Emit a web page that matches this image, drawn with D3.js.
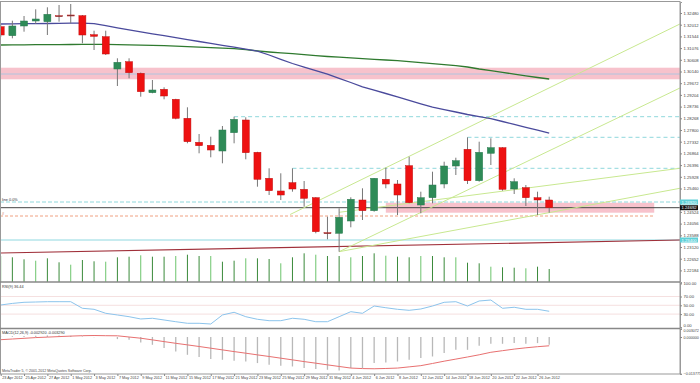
<!DOCTYPE html>
<html>
<head>
<meta charset="utf-8">
<title>EURUSD Daily</title>
<script src="https://cdn.jsdelivr.net/npm/d3@7"></script>
<style>
  body { margin: 0; background: #fff; }
  svg { display: block; font-family: "Liberation Sans", Arial, sans-serif; }
</style>
</head>
<body>
<script>
// bar dates (daily)
const dates = ["23 Apr 2012","24 Apr 2012","25 Apr 2012","26 Apr 2012","27 Apr 2012","30 Apr 2012",
  "1 May 2012","2 May 2012","3 May 2012","4 May 2012","7 May 2012","8 May 2012","9 May 2012","10 May 2012",
  "11 May 2012","14 May 2012","15 May 2012","16 May 2012","17 May 2012","18 May 2012","21 May 2012",
  "22 May 2012","23 May 2012","24 May 2012","25 May 2012","28 May 2012","29 May 2012","30 May 2012",
  "31 May 2012","1 Jun 2012","4 Jun 2012","5 Jun 2012","6 Jun 2012","7 Jun 2012","8 Jun 2012",
  "11 Jun 2012","12 Jun 2012","13 Jun 2012","14 Jun 2012","15 Jun 2012","18 Jun 2012","19 Jun 2012",
  "20 Jun 2012","21 Jun 2012","22 Jun 2012","25 Jun 2012","26 Jun 2012","27 Jun 2012"];

const open  = [1.31932,1.31572,1.31960,1.32160,1.32132,1.32372,1.32400,1.32372,1.31612,1.31532,1.30240,1.30532,
  1.30068,1.29292,1.29428,1.29028,1.28268,1.27308,1.27188,1.26960,1.27692,1.28200,1.26908,1.25868,1.25360,
  1.25692,1.25428,1.25092,1.23692,1.23668,1.24160,1.25000,1.24572,1.25828,1.25640,1.26372,1.24800,1.25092,
  1.25640,1.26360,1.27028,1.25772,1.26868,1.27092,1.25440,1.25492,1.25092,1.25000];
const high  = [1.32000,1.32172,1.32360,1.32628,1.32708,1.32800,1.32840,1.32400,1.31772,1.31772,1.30668,1.30668,
  1.30100,1.29800,1.29508,1.29048,1.28708,1.27640,1.27532,1.27960,1.28332,1.28308,1.26928,1.26268,1.26068,
  1.26268,1.25760,1.25112,1.24332,1.24668,1.25108,1.25468,1.25880,1.26292,1.25800,1.26732,1.25332,1.26132,
  1.26532,1.26692,1.27508,1.27332,1.27468,1.27112,1.25868,1.25600,1.25332,1.25132];
const low   = [1.31520,1.31468,1.31732,1.32040,1.31600,1.32132,1.32068,1.31268,1.31000,1.30800,1.29560,1.29868,
  1.29132,1.29268,1.29028,1.28228,1.27268,1.26868,1.26708,1.26468,1.27268,1.26628,1.25532,1.25200,1.25000,
  1.25332,1.24732,1.23668,1.23428,1.22932,1.23908,1.24200,1.24532,1.25468,1.24400,1.24868,1.24468,1.24868,
  1.25468,1.26000,1.25640,1.25732,1.26400,1.25372,1.25240,1.24760,1.24400,1.24492];
const close = [1.31600,1.31960,1.32160,1.32240,1.32428,1.32368,1.32396,1.31600,1.31548,1.30840,1.30508,1.30092,
  1.29332,1.29400,1.29160,1.28268,1.27332,1.27172,1.27000,1.27800,1.28228,1.26892,1.25828,1.25372,1.25200,
  1.25440,1.25068,1.23732,1.23688,1.24308,1.25028,1.24572,1.25868,1.25640,1.25200,1.24892,1.25092,1.25600,
  1.26360,1.26572,1.25772,1.26908,1.27092,1.25428,1.25732,1.25092,1.25000,1.24692];

// moving averages
const maBlue = [1.32040,1.32044,1.32052,1.32056,1.32060,1.32068,1.32072,1.32076,1.32052,1.31972,1.31888,1.31808,
  1.31728,1.31648,1.31572,1.31496,1.31416,1.31340,1.31264,1.31188,1.31116,1.31036,1.30952,1.30800,1.30628,
  1.30460,1.30316,1.30172,1.30032,1.29868,1.29700,1.29528,1.29392,1.29260,1.29124,1.28984,1.28844,1.28712,
  1.28616,1.28520,1.28420,1.28332,1.28252,1.28140,1.28024,1.27908,1.27792,1.27676];
const maGreen = [1.31200,1.31204,1.31208,1.31212,1.31212,1.31216,1.31220,1.31224,1.31228,1.31224,1.31216,1.31204,
  1.31192,1.31184,1.31176,1.31156,1.31136,1.31116,1.31092,1.31072,1.31052,1.31016,1.30964,1.30920,1.30884,
  1.30852,1.30812,1.30776,1.30740,1.30712,1.30684,1.30656,1.30628,1.30600,1.30572,1.30532,1.30492,1.30452,
  1.30412,1.30372,1.30320,1.30240,1.30172,1.30104,1.30036,1.29968,1.29900,1.29840];

const volume = [26000,24700,22700,21300,23700,19700,17300,22000,20700,20300,24700,25300,26700,25300,25300,26000,
  27300,26000,26000,20300,21300,23700,23700,23000,18700,24700,28700,27300,26000,26000,24700,26000,28700,26300,
  25300,24700,26000,26000,24700,24700,19300,18700,15300,14700,14300,13700,15300,13000];

const rsi = [50.7,54.3,56.8,57.5,58.2,58.2,58.2,43.2,40.9,31.8,28.0,24.1,18.9,20.5,16.6,12.7,9.1,9.1,7.5,28.0,
  34.1,24.1,18.2,15.0,15.0,20.5,18.2,12.7,12.7,24.1,35.5,31.8,48.4,44.5,40.9,38.6,41.6,48.4,56.8,58.2,48.4,
  59.8,62.0,43.2,45.5,40.9,40.9,36.44];

const macdHist = [0.00020,0.00030,0.00040,0.00050,0.00060,0.00060,0.00050,0.00020,-0.00010,-0.00004,-0.00079,
  -0.00105,-0.00206,-0.00292,-0.00415,-0.00542,-0.00666,-0.00752,-0.00827,-0.00853,-0.00890,-0.00916,-0.00976,
  -0.01040,-0.01077,-0.01103,-0.01163,-0.01201,-0.01227,-0.01253,-0.01163,-0.01163,-0.00976,-0.00954,-0.00916,
  -0.00853,-0.00789,-0.00729,-0.00602,-0.00479,-0.00479,-0.00329,-0.00254,-0.00254,-0.00228,-0.00254,-0.00228,
  -0.00292];
const macdSignal = [-0.00101,-0.00075,-0.00049,-0.00022,-0.00004,0.00015,0.00034,0.00049,0.00056,0.00049,0.00045,
  0.00000,-0.00045,-0.00108,-0.00172,-0.00236,-0.00295,-0.00355,-0.00419,-0.00482,-0.00546,-0.00606,-0.00669,
  -0.00729,-0.00793,-0.00856,-0.00920,-0.00980,-0.01043,-0.01103,-0.01163,-0.01182,-0.01189,-0.01178,-0.01163,
  -0.01118,-0.01073,-0.00991,-0.00905,-0.00827,-0.00748,-0.00666,-0.00572,-0.00512,-0.00453,-0.00404,-0.00363,
  -0.00329];

// axis ticks
const priceTicks = [1.32480,1.32012,1.31544,1.31076,1.30608,1.30140,1.29672,1.29204,1.28736,1.28268,1.27800,
  1.27332,1.26864,1.26396,1.25928,1.25460,1.24992,1.24524,1.24056,1.23588,1.23120,1.22652,1.22184];
const rsiTicks = [100, 70, 50, 30, 0];
const macdTicks = [0.003072, 0, -0.013775];
const dateTicks = d3.range(0, 48, 2);

// drawn objects (bar index, price)
const levelPrice = [1.28332, 1.27508, 1.26268];   // dashed swing levels
const levelFrom  = [20, 40, 25];
const zoneTop    = [1.30292, 1.24892];
const zoneBottom = [1.29828, 1.24492];
const zoneFrom   = [-1, 33];
const zoneTo     = [60, 56];
const fibLine = 1.24920;
const orangeLine = 1.24360;
const cyanLine = 1.23400;
const longLine = [[0, 1.22880], [58.2, 1.23400]];
const fanLines = [
  [[24.8, 1.24420], [58.2, 1.32040]],
  [[29, 1.22932], [58.2, 1.29480]],
  [[29, 1.24508], [58.2, 1.26268]],
  [[29, 1.22932], [58.2, 1.25468]]
];

const W = 700, H = 383;
const L = 0, R = 680;
const mainTop = 2, mainBot = 282, rsiTop = 283, rsiBot = 328, macdTop = 329, macdBot = 374;
const fs = 4.2;

const svg = d3.select("body").append("svg").attr("width", W).attr("height", H);
svg.append("rect").attr("width", W).attr("height", H).attr("fill", "#fff");

svg.append("clipPath").attr("id", "mainclip")
  .append("rect").attr("x", L).attr("y", mainTop).attr("width", R - L).attr("height", mainBot - mainTop);

const x = d3.scaleLinear().domain([0, 47]).range([0.7, 549.2]);
const y = d3.scaleLinear().domain([1.2172, 1.3292]).range([mainBot, mainTop]);
const yVol = d3.scaleLinear().domain([0, 30000]).range([mainBot, mainBot - 30]);
const yRsi = d3.scaleLinear().domain([0, 100]).range([327.3, 283.3]);
const yMacd = d3.scaleLinear().domain([-0.013775, 0.003072]).range([373.8, 328.8]);

const main = svg.append("g").attr("clip-path", "url(#mainclip)");

// zones
zoneTop.forEach(function (t, k) {
  main.append("rect")
    .attr("x", x(zoneFrom[k])).attr("y", y(t))
    .attr("width", x(zoneTo[k]) - x(zoneFrom[k]))
    .attr("height", y(zoneBottom[k]) - y(t))
    .attr("fill", "#f7c2cc");
});
main.append("line").attr("x1", L).attr("x2", R).attr("y1", y(1.30040)).attr("y2", y(1.30040))
  .attr("stroke", "#b0c4de").attr("stroke-width", 1);

// horizontal levels
levelPrice.forEach(function (p, k) {
  main.append("line")
    .attr("x1", x(levelFrom[k])).attr("x2", R).attr("y1", y(p)).attr("y2", y(p))
    .attr("stroke", "#8fd8dc").attr("stroke-dasharray", "4,3");
});
main.append("line").attr("x1", L).attr("x2", R).attr("y1", y(fibLine)).attr("y2", y(fibLine))
  .attr("stroke", "#8fd8dc").attr("stroke-dasharray", "4,2");
main.append("line").attr("x1", L).attr("x2", x(56)).attr("y1", y(orangeLine)).attr("y2", y(orangeLine))
  .attr("stroke", "#f0a080").attr("stroke-dasharray", "3,2");
main.append("line").attr("x1", L).attr("x2", R).attr("y1", y(cyanLine)).attr("y2", y(cyanLine))
  .attr("stroke", "#8fd8e0").attr("stroke-width", 1);
main.append("line").attr("x1", L).attr("x2", R).attr("y1", y(close[47])).attr("y2", y(close[47]))
  .attr("stroke", "#444").attr("stroke-width", 1);

main.append("line")
  .attr("x1", x(longLine[0][0])).attr("y1", y(longLine[0][1]))
  .attr("x2", x(longLine[1][0])).attr("y2", y(longLine[1][1]))
  .attr("stroke", "#a0303a").attr("stroke-width", 1.2);

// fan lines
main.selectAll("line.fan").data(fanLines).enter().append("line").attr("class", "fan")
  .attr("x1", d => x(d[0][0])).attr("y1", d => y(d[0][1]))
  .attr("x2", d => x(d[1][0])).attr("y2", d => y(d[1][1]))
  .attr("stroke", "#c8e890").attr("stroke-width", 1);

// volumes
main.selectAll("line.vol").data(volume).enter().append("line").attr("class", "vol")
  .attr("x1", (d, i) => x(i)).attr("x2", (d, i) => x(i))
  .attr("y1", yVol(0)).attr("y2", d => yVol(d))
  .attr("stroke", (d, i) => i % 3 === 0 ? "#6cc46c" : "#3a8a3a").attr("stroke-width", 1);

// moving averages
const maLine = d3.line().x((d, i) => x(i)).y(d => y(d));
main.append("path").datum(maGreen).attr("d", maLine).attr("fill", "none")
  .attr("stroke", "#2f7a2f").attr("stroke-width", 1.3);
main.append("path").datum(maBlue).attr("d", maLine).attr("fill", "none")
  .attr("stroke", "#4a4a9c").attr("stroke-width", 1.3);

// candles
const bw = 7;
const candles = main.selectAll("g.c").data(dates).enter().append("g").attr("class", "c");
candles.append("line")
  .attr("x1", (d, i) => x(i)).attr("x2", (d, i) => x(i))
  .attr("y1", (d, i) => y(high[i])).attr("y2", (d, i) => y(low[i]))
  .attr("stroke", "#777").attr("stroke-width", 1);
candles.append("rect")
  .attr("x", (d, i) => x(i) - bw / 2)
  .attr("y", (d, i) => y(Math.max(open[i], close[i])))
  .attr("width", bw)
  .attr("height", (d, i) => Math.max(1, Math.abs(y(open[i]) - y(close[i]))))
  .attr("fill", (d, i) => Math.abs(open[i] - close[i]) < 0.0001 ? "#555" : (close[i] > open[i] ? "#2e8b57" : "#ee1111"))
  .attr("stroke", (d, i) => close[i] > open[i] ? "#2a7a50" : "#c01010")
  .attr("stroke-width", 0.5);

// left labels
svg.append("text").attr("x", 2).attr("y", y(fibLine) - 1).attr("font-size", 3.8).attr("fill", "#333").text("line 0.0%");
svg.append("text").attr("x", 2).attr("y", y(orangeLine) - 1).attr("font-size", 3.8).attr("fill", "#c04020").text("#");

// RSI pane
[70, 50, 30].forEach(function (v) {
  svg.append("line").attr("x1", L).attr("x2", R).attr("y1", yRsi(v)).attr("y2", yRsi(v))
    .attr("stroke", "#f2d8d8").attr("stroke-width", 0.8);
});
svg.append("path").datum(rsi)
  .attr("d", d3.line().x((d, i) => x(i)).y(d => yRsi(d)))
  .attr("fill", "none").attr("stroke", "#8cc4ec").attr("stroke-width", 1);
svg.append("text").attr("x", 2).attr("y", 288).attr("font-size", 3.8).attr("fill", "#333")
  .text("RSI(9) " + rsi[47].toFixed(2));

// MACD pane
svg.selectAll("line.mh").data(macdHist).enter().append("line").attr("class", "mh")
  .attr("x1", (d, i) => x(i)).attr("x2", (d, i) => x(i))
  .attr("y1", yMacd(0)).attr("y2", d => yMacd(d))
  .attr("stroke", "#b8b8b8").attr("stroke-width", 1.3);
svg.append("path").datum(macdSignal)
  .attr("d", d3.line().x((d, i) => x(i)).y(d => yMacd(d)))
  .attr("fill", "none").attr("stroke", "#e87070").attr("stroke-width", 1);
svg.append("text").attr("x", 2).attr("y", 334).attr("font-size", 3.8).attr("fill", "#333")
  .text("MACD(12,26,9) " + macdHist[47].toFixed(6) + " " + macdSignal[47].toFixed(6));

// frames
svg.append("rect").attr("x", 0.5).attr("y", 1.5).attr("width", R - 0.5).attr("height", macdBot - 1.5)
  .attr("fill", "none").attr("stroke", "#999");
[mainBot, rsiBot + 0.5].forEach(function (yy) {
  svg.append("line").attr("x1", 0).attr("x2", R).attr("y1", yy).attr("y2", yy)
    .attr("stroke", "#888").attr("stroke-width", 1.5);
});

// price tags sit over the axis, so the tick labels under them are hidden
const tagPrices = [fibLine, cyanLine, close[47]];
const hidden = p => tagPrices.some(t => Math.abs(y(t) - y(p)) < 4);

// right axes
const axisStyle = function (g) {
  g.selectAll("text").attr("font-size", fs).attr("fill", "#444");
  g.selectAll("line").attr("stroke", "#888");
  g.select(".domain").attr("stroke", "#999");
};
const priceAxis = svg.append("g").attr("transform", "translate(" + R + ",0)")
  .call(d3.axisRight(y).tickValues(priceTicks).tickSize(2).tickPadding(1.5).tickFormat(d3.format(".5f")))
  .call(axisStyle);
priceAxis.selectAll(".tick text").filter(d => hidden(d)).remove();
const rsiAxis = svg.append("g").attr("transform", "translate(" + R + ",0)")
  .call(d3.axisRight(yRsi).tickValues(rsiTicks).tickSize(2).tickPadding(1.5).tickFormat(d3.format(".2f")))
  .call(axisStyle);
rsiAxis.selectAll("text").filter(d => d === 0).attr("dy", "-0.1em");
const macdAxis = svg.append("g").attr("transform", "translate(" + R + ",0)")
  .call(d3.axisRight(yMacd).tickValues(macdTicks).tickSize(2).tickPadding(1.5).tickFormat(d3.format(".6f")))
  .call(axisStyle);
macdAxis.selectAll("text").attr("font-size", 3.7);
macdAxis.selectAll("text").filter(d => d > 0).attr("dy", "0.75em");
macdAxis.selectAll("text").filter(d => d < 0).attr("dy", "0.1em");

function tag(p, bg, fg) {
  const g = svg.append("g").attr("transform", "translate(" + R + "," + y(p) + ")");
  g.append("rect").attr("x", 0).attr("y", -2.5).attr("width", 18).attr("height", 5).attr("fill", bg);
  g.append("text").attr("x", 1.5).attr("y", 1.5).attr("font-size", fs).attr("fill", fg).text(p.toFixed(5));
}
tag(fibLine, "#5fd0d8", "#fff");
tag(cyanLine, "#5fd0d8", "#fff");
tag(close[47], "#111", "#fff");

// date axis
const xAxis = svg.append("g").attr("transform", "translate(0," + macdBot + ")")
  .call(d3.axisBottom(x).tickValues(dateTicks).tickSize(2).tickFormat(i => dates[i]));
xAxis.select(".domain").remove();
xAxis.selectAll("line").attr("stroke", "#888");
xAxis.selectAll("text").attr("font-size", 3.8).attr("fill", "#444")
  .attr("text-anchor", "start").attr("dx", 1).attr("dy", 0.2);

svg.append("text").attr("x", 2).attr("y", 372).attr("font-size", 3.6).attr("fill", "#444")
  .text("MetaTrader 5, \u00a9 2001-2012 MetaQuotes Software Corp.");
</script>
</body>
</html>
